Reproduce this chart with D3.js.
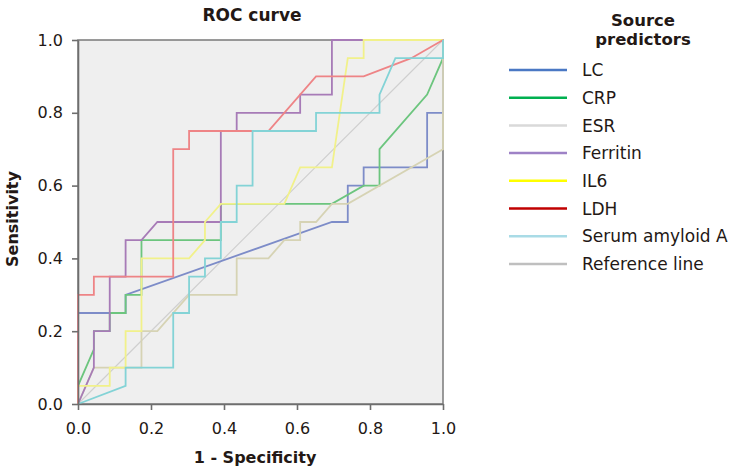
<!DOCTYPE html>
<html>
<head>
<meta charset="utf-8">
<script src="https://cdn.jsdelivr.net/npm/d3@7"></script>
<style>
  html, body { margin: 0; padding: 0; background: #fff; }
  svg { display: block; }
  text { font-family: "DejaVu Sans", Verdana, sans-serif; fill: #231815; }
</style>
</head>
<body>
<svg id="chart" width="736" height="471"></svg>
<script>
// ---- data (x = 1 - specificity in 23rds, y = sensitivity) ----
const seriesNames = ["LC", "CRP", "ESR", "Ferritin", "IL6", "LDH", "Serum amyloid A", "Reference line"];
const legendColors = ["#4a78c4", "#00b050", "#d9d9d9", "#9e82c6", "#ffff00", "#c00000", "#a9dbe6", "#bfbfbf"];
const lineColors   = ["#7d8cc8", "#6cc57e", "#d6d3b4", "#a77bb7", "#f1f18a", "#ee8486", "#83d3d6", "#cfcfcf"];
const nNeg = 23;

const lcX  = [0, 0, 3, 3, 16, 17, 17, 18, 18, 22, 22, 23, 23];
const lcY  = [0, 0.25, 0.25, 0.30, 0.50, 0.50, 0.60, 0.60, 0.65, 0.65, 0.80, 0.80, 1.0];

const crpX = [0, 0, 1, 1, 2, 2, 3, 3, 4, 4, 9, 9, 16, 18, 19, 19, 22, 23, 23];
const crpY = [0, 0.05, 0.15, 0.20, 0.20, 0.25, 0.25, 0.30, 0.30, 0.45, 0.45, 0.55, 0.55, 0.60, 0.60, 0.70, 0.85, 0.95, 1.0];

const esrX = [0, 1, 4, 4, 5, 7, 10, 10, 12, 13, 14, 14, 15, 16, 17, 23, 23];
const esrY = [0, 0.10, 0.10, 0.20, 0.20, 0.30, 0.30, 0.40, 0.40, 0.45, 0.45, 0.50, 0.50, 0.55, 0.55, 0.70, 1.0];

const ferX = [0, 1, 1, 2, 2, 3, 3, 4, 5, 9, 9, 10, 10, 14, 14, 16, 16, 23];
const ferY = [0, 0.10, 0.20, 0.20, 0.35, 0.35, 0.45, 0.45, 0.50, 0.50, 0.75, 0.75, 0.80, 0.80, 0.85, 0.85, 1.0, 1.0];

const il6X = [0, 0, 2, 2, 3, 3, 4, 4, 7, 8, 8, 9, 13, 14, 16, 17, 18, 18, 23];
const il6Y = [0, 0.05, 0.05, 0.10, 0.10, 0.20, 0.20, 0.40, 0.40, 0.45, 0.50, 0.55, 0.55, 0.65, 0.65, 0.95, 0.95, 1.0, 1.0];

const ldhX = [0, 0, 1, 1, 6, 6, 7, 7, 12, 15, 18, 21, 23];
const ldhY = [0, 0.30, 0.30, 0.35, 0.35, 0.70, 0.70, 0.75, 0.75, 0.90, 0.90, 0.95, 1.0];

const saaX = [0, 3, 3, 6, 6, 7, 7, 8, 8, 9, 9, 10, 10, 11, 11, 15, 15, 19, 19, 20, 23, 23];
const saaY = [0, 0.05, 0.10, 0.10, 0.25, 0.25, 0.35, 0.35, 0.40, 0.40, 0.50, 0.50, 0.60, 0.60, 0.75, 0.75, 0.80, 0.80, 0.85, 0.95, 0.95, 1.0];

const refX = [0, 23];
const refY = [0, 1];

const xTicks = [0, 0.2, 0.4, 0.6, 0.8, 1.0];
const yTicks = [0, 0.2, 0.4, 0.6, 0.8, 1.0];

// ---- build ----
const seriesX = [lcX, crpX, esrX, ferX, il6X, ldhX, saaX, refX];
const seriesY = [lcY, crpY, esrY, ferY, il6Y, ldhY, saaY, refY];

const svg = d3.select("#chart");
const plot = { left: 78, right: 443, top: 40, bottom: 404 };
const x = d3.scaleLinear().domain([0, 1]).range([plot.left, plot.right]);
const y = d3.scaleLinear().domain([0, 1]).range([plot.bottom, plot.top]);

// background
svg.append("rect")
  .attr("x", plot.left).attr("y", plot.top)
  .attr("width", plot.right - plot.left).attr("height", plot.bottom - plot.top)
  .attr("fill", "#efefef")
  .attr("stroke", "#7a7a7a").attr("stroke-width", 1.5);

const line = d3.line().x(d => x(d[0])).y(d => y(d[1]));

// reference line first, then predictors in order
const order = [7, 0, 1, 2, 3, 4, 5, 6];
order.forEach(i => {
  const pts = seriesX[i].map((v, k) => [v / nNeg, seriesY[i][k]]);
  svg.append("path")
    .datum(pts)
    .attr("d", line)
    .attr("fill", "none")
    .attr("stroke", lineColors[i])
    .attr("stroke-width", i === 7 ? 1.2 : 1.8)
    .attr("stroke-linejoin", "miter");
});

// axes
const xAxis = d3.axisBottom(x).tickValues(xTicks).tickFormat(d3.format(".1f")).tickSize(6).tickPadding(13).tickSizeOuter(0);
const yAxis = d3.axisLeft(y).tickValues(yTicks).tickFormat(d3.format(".1f")).tickSize(6).tickPadding(9).tickSizeOuter(0);

const gx = svg.append("g").attr("transform", `translate(0,${plot.bottom})`).call(xAxis);
const gy = svg.append("g").attr("transform", `translate(${plot.left},0)`).call(yAxis);
[gx, gy].forEach(g => {
  g.select(".domain").attr("stroke", "#6e6e6e").attr("stroke-width", 1.6);
  g.selectAll(".tick line").attr("stroke", "#6e6e6e").attr("stroke-width", 1.6);
  g.selectAll(".tick text").attr("font-size", 16).attr("fill", "#231815")
    .attr("font-family", "DejaVu Sans, Verdana, sans-serif");
});

// titles
svg.append("text").attr("x", 252).attr("y", 21).attr("text-anchor", "middle")
  .attr("font-size", 17).attr("font-weight", "bold").text("ROC curve");
svg.append("text").attr("x", 255).attr("y", 463).attr("text-anchor", "middle")
  .attr("font-size", 16).attr("font-weight", "bold").text("1 - Specificity");
svg.append("text").attr("transform", `translate(18,${(plot.top + plot.bottom) / 2 - 3}) rotate(-90)`)
  .attr("text-anchor", "middle").attr("font-size", 16).attr("font-weight", "bold").text("Sensitivity");

// legend
const lg = svg.append("g");
lg.append("text").attr("x", 643).attr("y", 26).attr("text-anchor", "middle")
  .attr("font-size", 16.5).attr("font-weight", "bold").text("Source");
lg.append("text").attr("x", 643).attr("y", 45).attr("text-anchor", "middle")
  .attr("font-size", 16.5).attr("font-weight", "bold").text("predictors");
seriesNames.forEach((name, i) => {
  const yy = 70 + i * 27.7;
  lg.append("line").attr("x1", 509).attr("x2", 567).attr("y1", yy).attr("y2", yy)
    .attr("stroke", legendColors[i]).attr("stroke-width", 2.5);
  lg.append("text").attr("x", 582).attr("y", yy).attr("dy", "0.36em")
    .attr("font-size", 17).text(name);
});
</script>
</body>
</html>
